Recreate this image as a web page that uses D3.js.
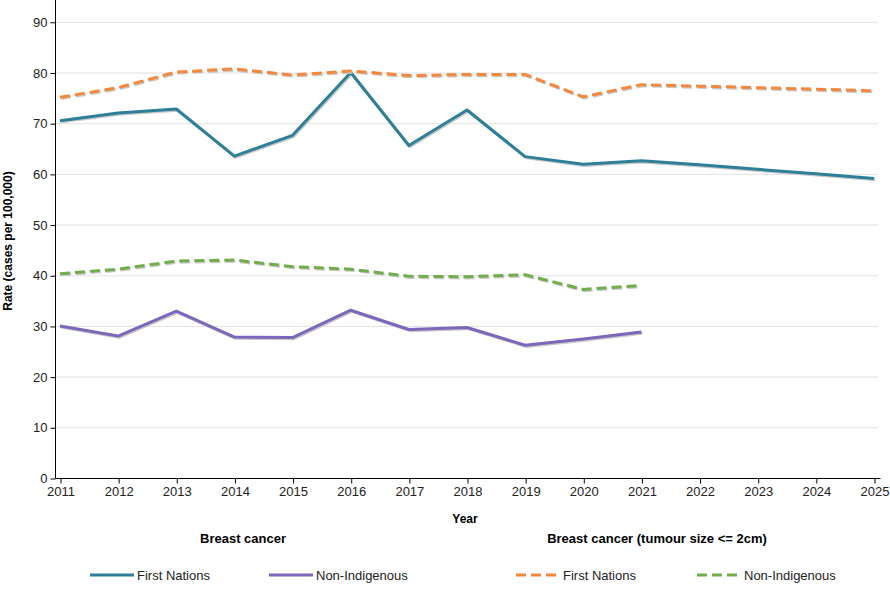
<!DOCTYPE html>
<html><head><meta charset="utf-8">
<script src="https://cdn.jsdelivr.net/npm/d3@7"></script>
<style>
body{margin:0;background:#fff;}
text{font-family:Arial,"Liberation Sans",sans-serif;}
</style></head>
<body><svg id="c" width="890" height="600"></svg>
<script>
const years = [2011,2012,2013,2014,2015,2016,2017,2018,2019,2020,2021,2022,2023,2024,2025];
const yTicks = [0,10,20,30,40,50,60,70,80,90];
const fnBreast = [70.5,72.0,72.8,63.5,67.6,80.0,65.6,72.6,63.4,61.9,62.6,61.8,60.9,60.0,59.1];
const niBreast = [30.0,28.0,32.9,27.8,27.7,33.1,29.3,29.7,26.2,27.4,28.8];
const fnSmall = [75.1,77.0,80.1,80.7,79.5,80.3,79.4,79.6,79.6,75.2,77.6,77.3,77.0,76.7,76.4];
const niSmall = [40.3,41.2,42.8,43.0,41.7,41.2,39.8,39.7,40.1,37.2,38.0];
const seriesNames = ["First Nations","Non-Indigenous","First Nations","Non-Indigenous"];
const groupTitles = ["Breast cancer","Breast cancer (tumour size <= 2cm)"];

const svg = d3.select("#c");
const x = d3.scaleLinear().domain([2011,2025]).range([60,874]);
const y = d3.scaleLinear().domain([0,94.3]).range([478,0]);

// gridlines
svg.append("g").selectAll("line").data(yTicks.filter(d=>d>0)).join("line")
  .attr("x1",55).attr("x2",878).attr("y1",d=>y(d)+0.5).attr("y2",d=>y(d)+0.5)
  .attr("stroke","#e2e2e2").attr("stroke-width",1);

// axes
const yAxis = svg.append("g").attr("transform","translate(55.5,0.5)")
  .call(d3.axisLeft(y).tickValues(yTicks).tickSize(5).tickSizeOuter(0).tickPadding(3));
yAxis.select(".domain").attr("d","M0,-1V478").attr("stroke","#000");
yAxis.selectAll("text").attr("font-size","13px").attr("fill","#222");
const xAxis = svg.append("g").attr("transform","translate(0.5,478.5)")
  .call(d3.axisBottom(x).tickValues(years).tickFormat(d3.format("d")).tickSize(5).tickSizeOuter(0).tickPadding(3));
xAxis.select(".domain").attr("d","M55,0H880").attr("stroke","#000");
xAxis.selectAll("text").attr("font-size","13px").attr("fill","#222");

// titles
svg.append("text").attr("transform","translate(12,241) rotate(-90)").attr("text-anchor","middle")
  .attr("font-size","12px").attr("font-weight","bold").text("Rate (cases per 100,000)");
svg.append("text").attr("x",465).attr("y",523).attr("text-anchor","middle")
  .attr("font-size","12px").attr("font-weight","bold").text("Year");
svg.append("text").attr("x",243).attr("y",543).attr("text-anchor","middle")
  .attr("font-size","13px").attr("font-weight","bold").text(groupTitles[0]);
svg.append("text").attr("x",657).attr("y",543).attr("text-anchor","middle")
  .attr("font-size","13px").attr("font-weight","bold").text(groupTitles[1]);

const series = [
  {vals:fnBreast,color:"#2e7f98",dash:null},
  {vals:niBreast,color:"#7d67bb",dash:null},
  {vals:fnSmall,color:"#f5883c",dash:"10,5"},
  {vals:niSmall,color:"#72ad4c",dash:"10,5"}
];
const line = d3.line().x((d,i)=>x(years[i])).y(d=>y(d));
series.forEach(s=>{
  svg.append("path").datum(s.vals).attr("d",line).attr("fill","none")
    .attr("stroke","#c8c8c8").attr("stroke-width",3).attr("stroke-dasharray",s.dash)
    .attr("transform","translate(1,1.2)").attr("stroke-linejoin","round");
  svg.append("path").datum(s.vals).attr("d",line).attr("fill","none")
    .attr("stroke",s.color).attr("stroke-width",3).attr("stroke-dasharray",s.dash)
    .attr("stroke-linejoin","round");
});

// legend
const legX = [90,269,516,697];
series.forEach((s,i)=>{
  const g = svg.append("g").attr("transform",`translate(${legX[i]},575)`);
  g.append("line").attr("x1",0).attr("x2",44).attr("y1",0).attr("y2",0)
    .attr("stroke",s.color).attr("stroke-width",3).attr("stroke-dasharray",s.dash?"10,5":null);
  g.append("text").attr("x",47).attr("y",4.5).attr("font-size","13px").attr("fill","#222").text(seriesNames[i]);
});
</script></body></html>
